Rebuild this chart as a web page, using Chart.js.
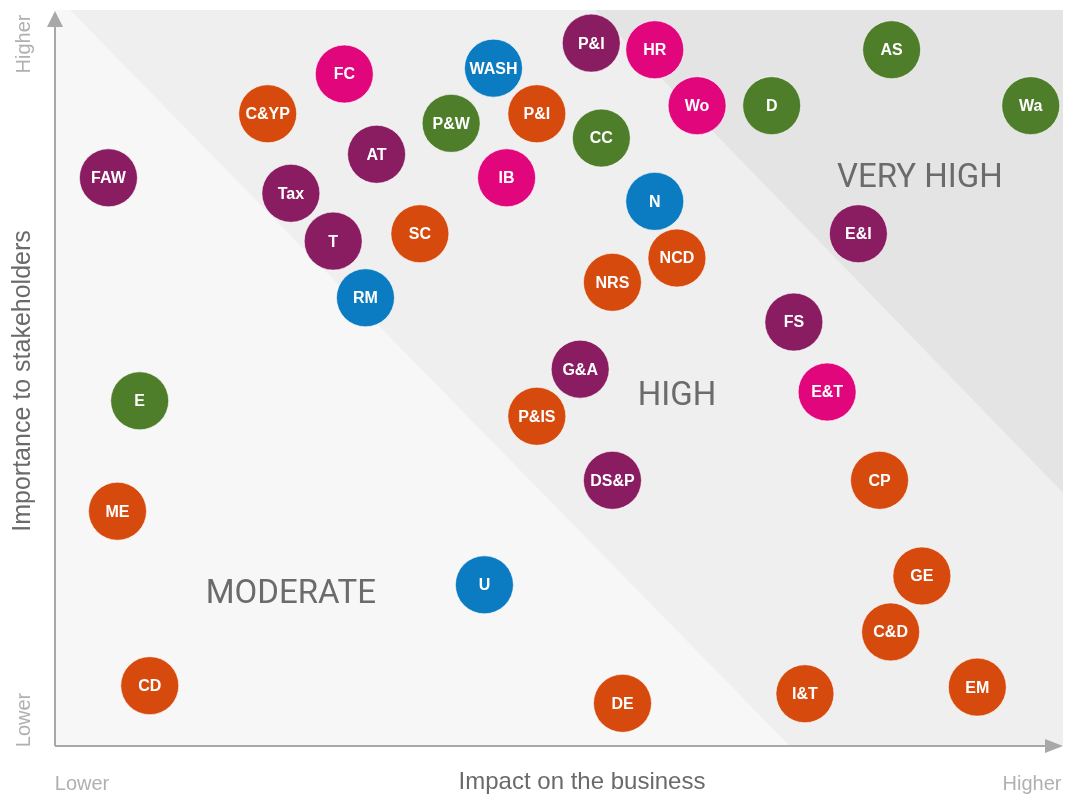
<!DOCTYPE html>
<html>
<head>
<meta charset="utf-8">
<title>Materiality matrix</title>
<script src="https://cdn.jsdelivr.net/npm/chart.js@4.4.1/dist/chart.umd.min.js"></script>
<style>
  html, body { margin: 0; padding: 0; background: #ffffff; }
  #contenedor { width: 1067px; height: 797px; position: relative; }
</style>
</head>
<body>
<div id="contenedor"><canvas id="matriz"></canvas></div>
<script>
// --- data (scale 0-10 on both axes) ---
var topics = ['FAW', 'C&YP', 'FC', 'AT', 'Tax', 'T', 'SC', 'RM', 'WASH', 'P&W',
              'P&I', 'IB', 'P&I', 'HR', 'CC', 'Wo', 'D', 'AS', 'Wa', 'N',
              'NCD', 'NRS', 'E&I', 'FS', 'G&A', 'E&T', 'P&IS', 'DS&P', 'CP', 'E',
              'ME', 'U', 'GE', 'C&D', 'CD', 'DE', 'I&T', 'EM'];
var impact = [0.53, 2.11, 2.87, 3.19, 2.34, 2.76, 3.62, 3.08, 4.35, 3.93,
              4.78, 4.48, 5.32, 5.95, 5.42, 6.37, 7.11, 8.30, 9.68, 5.95,
              6.17, 5.53, 7.97, 7.33, 5.21, 7.66, 4.78, 5.53, 8.18, 0.84,
              0.62, 4.26, 8.60, 8.29, 0.94, 5.63, 7.44, 9.15];
var importance = [7.72, 8.59, 9.13, 8.04, 7.51, 6.86, 6.96, 6.09, 9.21, 8.46,
                  8.59, 7.72, 9.55, 9.46, 8.26, 8.70, 8.70, 9.46, 8.70, 7.40,
                  6.63, 6.30, 6.96, 5.76, 5.12, 4.81, 4.48, 3.61, 3.61, 4.69,
                  3.19, 2.19, 2.31, 1.55, 0.82, 0.58, 0.71, 0.80];
var groups = ['purple', 'orange', 'magenta', 'purple', 'purple', 'purple', 'orange', 'blue', 'blue', 'green',
              'orange', 'magenta', 'purple', 'magenta', 'green', 'magenta', 'green', 'green', 'green', 'blue',
              'orange', 'orange', 'purple', 'purple', 'purple', 'magenta', 'orange', 'purple', 'orange', 'green',
              'orange', 'blue', 'orange', 'orange', 'orange', 'orange', 'orange', 'orange'];
var levelLabels = ['Lower', 'Higher'];
var xTitle = 'Impact on the business';
var yTitle = 'Importance to stakeholders';
var zoneNames = ['MODERATE', 'HIGH', 'VERY HIGH'];

// --- styles ---
var colores = {
    purple: '#8a1c62',
    magenta: '#e1067c',
    orange: '#d74a0e',
    green: '#4f7e2b',
    blue: '#0b7cc1'
};

document.addEventListener("DOMContentLoaded", function() {
    var nombresGrupo = ['purple', 'magenta', 'orange', 'green', 'blue'];

    var datasets = nombresGrupo.map(function(grupo) {
        var puntos = [];
        topics.forEach(function(tema, i) {
            if (groups[i] === grupo) {
                puntos.push({ x: impact[i], y: importance[i], r: 29, tema: tema });
            }
        });
        return {
            label: grupo,
            data: puntos,
            backgroundColor: colores[grupo],
            borderColor: 'rgba(255, 255, 255, 0.6)',
            borderWidth: 1,
            clip: false
        };
    });

    // background zones, axes with arrows, and the text around the plot
    var fondoPlugin = {
        id: 'fondo',
        beforeDatasetsDraw: function(chart) {
            var ctx = chart.ctx;
            var sx = chart.scales.x;
            var sy = chart.scales.y;
            var a = chart.chartArea;
            function px(v) { return sx.getPixelForValue(v); }
            function py(v) { return sy.getPixelForValue(v); }

            ctx.save();
            ctx.fillStyle = '#f7f7f7';
            ctx.fillRect(a.left, a.top, a.right - a.left, a.bottom - a.top);

            // high zone (right of the moderate boundary)
            ctx.beginPath();
            ctx.moveTo(px(0.15), py(10));
            ctx.lineTo(px(10), py(10));
            ctx.lineTo(px(10), py(0));
            ctx.lineTo(px(7.29), py(0));
            ctx.closePath();
            ctx.fillStyle = '#efefef';
            ctx.fill();

            // very high zone
            ctx.beginPath();
            ctx.moveTo(px(5.36), py(10));
            ctx.lineTo(px(10), py(10));
            ctx.lineTo(px(10), py(3.44));
            ctx.closePath();
            ctx.fillStyle = '#e4e4e4';
            ctx.fill();

            // zone names (baseline at the bottom of the capitals)
            ctx.fillStyle = '#6b6b6b';
            ctx.font = '400 33px Roboto, "Liberation Sans", sans-serif';
            ctx.textAlign = 'center';
            ctx.textBaseline = 'alphabetic';
            ctx.fillText(zoneNames[0], px(2.34), py(1.94));
            ctx.fillText(zoneNames[1], px(6.17), py(4.63));
            ctx.fillText(zoneNames[2], px(8.58), py(7.60));

            // axis lines
            ctx.strokeStyle = '#a8a8a8';
            ctx.lineWidth = 2;
            ctx.beginPath();
            ctx.moveTo(a.left, a.bottom);
            ctx.lineTo(a.left, a.top + 12);
            ctx.moveTo(a.left, a.bottom);
            ctx.lineTo(a.right - 14, a.bottom);
            ctx.stroke();

            // arrow heads
            ctx.fillStyle = '#a8a8a8';
            ctx.beginPath();
            ctx.moveTo(a.left, a.top + 1);
            ctx.lineTo(a.left - 8, a.top + 17);
            ctx.lineTo(a.left + 8, a.top + 17);
            ctx.closePath();
            ctx.fill();
            ctx.beginPath();
            ctx.moveTo(a.right, a.bottom);
            ctx.lineTo(a.right - 18, a.bottom - 7);
            ctx.lineTo(a.right - 18, a.bottom + 7);
            ctx.closePath();
            ctx.fill();

            // axis titles and level labels
            ctx.textBaseline = 'middle';
            ctx.font = '24px "Liberation Sans", Arial, sans-serif';
            ctx.fillStyle = '#6a6a6a';
            ctx.fillText(xTitle, 582, 782);
            ctx.save();
            ctx.translate(23, 381);
            ctx.rotate(-Math.PI / 2);
            ctx.font = '25px "Liberation Sans", Arial, sans-serif';
            ctx.fillText(yTitle, 0, 0);
            ctx.restore();

            ctx.font = '20px "Liberation Sans", Arial, sans-serif';
            ctx.fillStyle = '#b0b0b0';
            ctx.fillText(levelLabels[0], 82, 784);
            ctx.fillText(levelLabels[1], 1032, 784);
            ctx.save();
            ctx.translate(24, 720);
            ctx.rotate(-Math.PI / 2);
            ctx.fillText(levelLabels[0], 0, 0);
            ctx.restore();
            ctx.save();
            ctx.translate(24, 44);
            ctx.rotate(-Math.PI / 2);
            ctx.fillText(levelLabels[1], 0, 0);
            ctx.restore();

            ctx.restore();
        },
        afterDatasetsDraw: function(chart) {
            var ctx = chart.ctx;
            ctx.save();
            ctx.fillStyle = '#ffffff';
            ctx.font = 'bold 16px "Liberation Sans", Arial, sans-serif';
            ctx.textAlign = 'center';
            ctx.textBaseline = 'middle';
            chart.data.datasets.forEach(function(ds, d) {
                var meta = chart.getDatasetMeta(d);
                meta.data.forEach(function(el, i) {
                    ctx.fillText(ds.data[i].tema, el.x, el.y + 1);
                });
            });
            ctx.restore();
        }
    };

    var ctx = document.getElementById('matriz').getContext('2d');
    var matriz = new Chart(ctx, {
        type: 'bubble',
        data: { datasets: datasets },
        options: {
            responsive: true,
            maintainAspectRatio: false,
            animation: false,
            layout: {
                autoPadding: false,
                padding: { left: 55, right: 4, top: 10, bottom: 51 }
            },
            scales: {
                x: { type: 'linear', min: 0, max: 10, display: false },
                y: { type: 'linear', min: 0, max: 10, display: false }
            },
            plugins: {
                legend: { display: false },
                tooltip: { enabled: false }
            }
        },
        plugins: [fondoPlugin]
    });
});
</script>
</body>
</html>
